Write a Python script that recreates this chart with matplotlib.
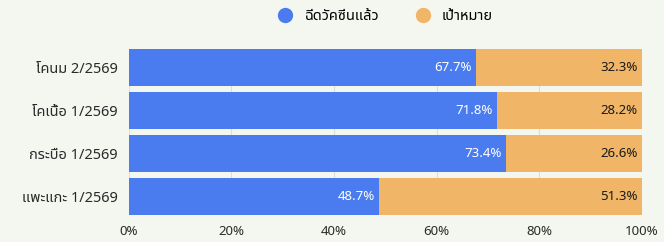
import matplotlib.pyplot as plt
import numpy as np

plt.rcParams['font.family'] = ['Noto Sans Thai', 'Noto Sans', 'DejaVu Sans']

labels = ['โคนม 2/2569', 'โคเนื้อ 1/2569', 'กระบือ 1/2569', 'แพะแกะ 1/2569']
vaccinated = [67.7, 71.8, 73.4, 48.7]
target = [32.3, 28.2, 26.6, 51.3]
series_names = ['ฉีดวัคซีนแล้ว', 'เป้าหมาย']

blue = '#4a7cf0'
orange = '#f0b566'
bg = '#f4f6f0'

fig = plt.figure(figsize=(6.64, 2.42), dpi=100, facecolor=bg)
ax = fig.add_axes([0.194, 0.112, 0.773, 0.686], facecolor=bg)

y = np.arange(len(labels))
ax.barh(y, vaccinated, height=0.85, color=blue, zorder=2)
ax.barh(y, target, left=vaccinated, height=0.85, color=orange, zorder=2)

for i in range(len(labels)):
    ax.text(vaccinated[i] - 0.8, y[i], f'{vaccinated[i]}%', color='white',
            ha='right', va='center', fontsize=9.5, zorder=3)
    ax.text(99.2, y[i], f'{target[i]}%', color='#1a1a1a',
            ha='right', va='center', fontsize=9.5, fontweight='bold', zorder=3)

ax.set_xlim(0, 100)
ax.set_ylim(3.43, -0.43)
ax.set_yticks(y)
ax.set_yticklabels(labels, fontsize=10.5, color='#2a2a2a', fontweight='bold')
ax.set_xticks([0, 20, 40, 60, 80, 100])
ax.set_xticklabels(['0%', '20%', '40%', '60%', '80%', '100%'], fontsize=9.5,
                   color='#2a2a2a', fontweight='bold')
ax.tick_params(axis='y', length=0, pad=8)
ax.tick_params(axis='x', length=0, pad=7)
ax.grid(axis='x', color='#dddddd', lw=0.8, zorder=0)
for s in ax.spines.values():
    s.set_visible(False)

# legend
h1 = plt.Line2D([], [], marker='o', ls='', color=blue, markersize=10)
h2 = plt.Line2D([], [], marker='o', ls='', color=orange, markersize=10)
fig.legend([h1, h2], series_names, loc='center', bbox_to_anchor=(0.575, 0.93),
           ncol=2, frameon=False, handletextpad=0.3, columnspacing=2.0,
           prop={'weight': 'bold', 'size': 10.5})

fig.savefig('out.png', dpi=100, facecolor=bg)
